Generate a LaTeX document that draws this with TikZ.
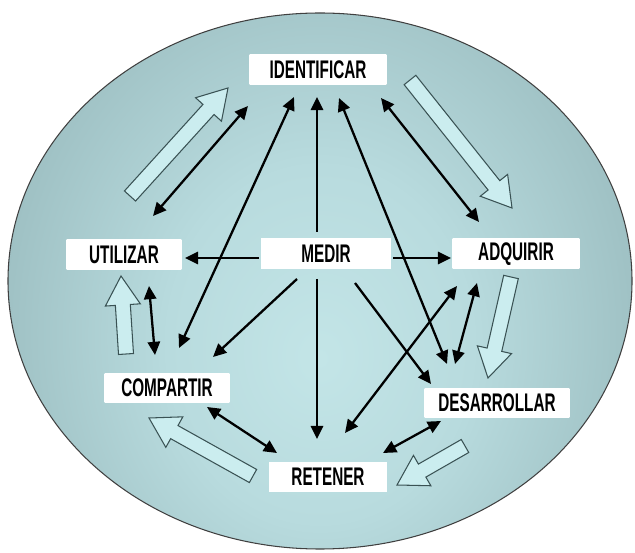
\documentclass[tikz,border=0pt]{standalone}
\usepackage{fontspec}
\usetikzlibrary{arrows.meta,calc}
\newfontfamily\tagfont[FakeStretch=0.6]{Liberation Sans}

\definecolor{disclight}{HTML}{C3E5E7}
\definecolor{discpale}{HTML}{B8DBDE}
\definecolor{discmid}{HTML}{9DBFC2}
\definecolor{discgrey}{HTML}{7F9B9E}
\definecolor{discdark}{HTML}{687F82}
\definecolor{flowfill}{HTML}{CBEDEF}
\definecolor{flowline}{HTML}{3A5254}
\definecolor{tagedge}{HTML}{A3C0C3}

\pgfdeclareradialshading{discshade}{\pgfpoint{0bp}{-4bp}}{color(0bp)=(disclight); color(12bp)=(discpale); color(26bp)=(discmid); color(38bp)=(discgrey); color(48bp)=(discdark)}
\pgfdeclarehorizontalshading{tagshade}{100bp}{color(0bp)=(tagedge); color(22bp)=(white); color(78bp)=(white); color(100bp)=(tagedge)}

\tikzset{
  disc/.style={draw=black!75, line width=0.6pt},
  tagbox/.style={shade, shading=tagshade, minimum height=0.6cm, inner sep=0pt,
    font=\tagfont\bfseries\fontsize{14.5}{16}\selectfont},
  oneway/.style={line width=1.3pt, -{Triangle[length=7.5pt,width=7pt]}},
  twoway/.style={line width=1.3pt, {Triangle[length=7.5pt,width=7pt]}-{Triangle[length=7.5pt,width=7pt]}},
  flow/.style={fill=flowfill, draw=flowline, line width=0.6pt, line join=miter}
}

\begin{document}
\begin{tikzpicture}[x=0.02cm, y=-0.02cm]
        % Canvas (pixel grid, y down)
        \useasboundingbox (0,0) rectangle (635,553);

        % Background disc, shading stretched upright
        \begin{scope}
            \clip (320,281) ellipse [x radius=312, y radius=268];
            \shade[shading=discshade] (320,300) ellipse [x radius=318, y radius=370];
        \end{scope}
        \draw[disc] (320,281) ellipse [x radius=312, y radius=268];

        % Labels
        \node[tagbox, minimum width=2.74cm] (ident) at (318,70) {IDENTIFICAR};
        \node[tagbox, minimum width=2.30cm] (util) at (124,255) {UTILIZAR};
        \node[tagbox, minimum width=2.60cm] (medir) at (326,254) {MEDIR};
        \node[tagbox, minimum width=2.54cm] (adq) at (516,254) {ADQUIRIR};
        \node[tagbox, minimum width=2.50cm] (comp) at (167,388) {COMPARTIR};
        \node[tagbox, minimum width=2.90cm] (desa) at (497,403) {DESARROLLAR};
        \node[tagbox, minimum width=2.36cm] (ret) at (328,477) {RETENER};

        % Cycle arrows (hollow)
        \coordinate (f1s) at ([shift={(6,-59)}]util.center);
        \coordinate (f1e) at ([shift={(-90,18)}]ident.center);
        \coordinate (f2s) at ([shift={(92,10)}]ident.center);
        \coordinate (f2e) at ([shift={(-4,-46)}]adq.center);
        \coordinate (f3s) at ([shift={(-5,23)}]adq.center);
        \coordinate (f3e) at ([shift={(-9,-25)}]desa.center);
        \coordinate (f4s) at ([shift={(-32,43)}]desa.center);
        \coordinate (f4e) at ([shift={(69,8)}]ret.center);
        \coordinate (f5s) at ([shift={(-75,-1)}]ret.center);
        \coordinate (f5e) at ([shift={(-18,30)}]comp.center);
        \coordinate (f6s) at ([shift={(-41,-34)}]comp.center);
        \coordinate (f6e) at ([shift={(-3,21)}]util.center);
        \foreach \s/\e in {f1s/f1e, f2s/f2e, f3s/f3e, f4s/f4e, f5s/f5e, f6s/f6e} {
            \coordinate (h) at ($(\e)!0.58cm!(\s)$);
            \filldraw[flow] ($(\s)!0.15cm!90:(\e)$) -- ($(h)!0.15cm!90:(\e)$)
                -- ($(h)!0.35cm!90:(\e)$) -- (\e) -- ($(h)!0.35cm!-90:(\e)$)
                -- ($(h)!0.15cm!-90:(\e)$) -- ($(\s)!0.15cm!-90:(\e)$) -- cycle;
        }

        % From MEDIR
        \draw[oneway] ([shift={(-9,-22)}]medir.center) -- ([shift={(-1,27)}]ident.center);
        \draw[oneway] ([shift={(-67,4)}]medir.center) -- ([shift={(61,3)}]util.center);
        \draw[oneway] ([shift={(67,4)}]medir.center) -- ([shift={(-65,4)}]adq.center);
        \draw[oneway] ([shift={(-29,25)}]medir.center) -- ([shift={(46,-31)}]comp.center);
        \draw[oneway] ([shift={(-9,25)}]medir.center) -- ([shift={(-11,-38)}]ret.center);
        \draw[oneway] ([shift={(29,29)}]medir.center) -- ([shift={(-66,-19)}]desa.center);

        % Links between stages
        \draw[twoway] ([shift={(29,-39)}]util.center) -- ([shift={(-70,36)}]ident.center);
        \draw[twoway] ([shift={(12,-40)}]comp.center) -- ([shift={(-24,27)}]ident.center);
        \draw[twoway] ([shift={(21,28)}]ident.center) -- ([shift={(-50,-39)}]desa.center);
        \draw[twoway] ([shift={(63,28)}]ident.center) -- ([shift={(-37,-32)}]adq.center);
        \draw[twoway] ([shift={(25,31)}]util.center) -- ([shift={(-12,-33)}]comp.center);
        \draw[twoway] ([shift={(-39,29)}]adq.center) -- ([shift={(-42,-39)}]desa.center);
        \draw[twoway] ([shift={(-59,32)}]adq.center) -- ([shift={(17,-44)}]ret.center);
        \draw[twoway] ([shift={(40,19)}]comp.center) -- ([shift={(-51,-24)}]ret.center);
        \draw[twoway] ([shift={(55,-24)}]ret.center) -- ([shift={(-56,18)}]desa.center);

    \end{tikzpicture}
\end{document}
